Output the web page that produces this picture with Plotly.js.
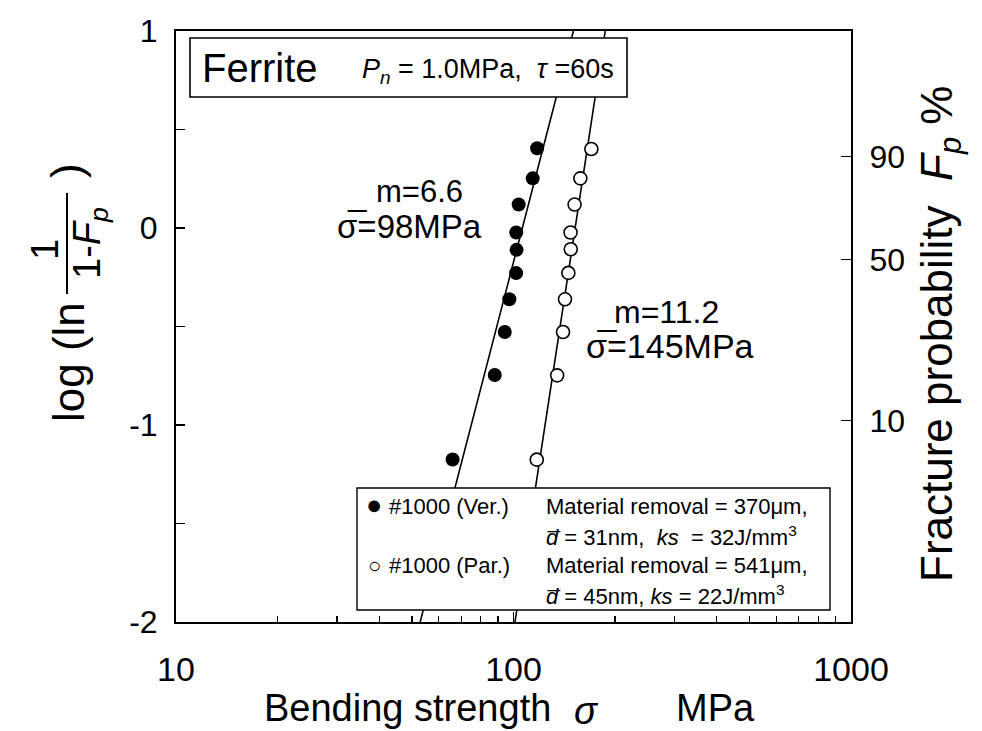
<!DOCTYPE html>
<html><head><meta charset="utf-8">
<script src="https://cdn.plot.ly/plotly-3.0.1.min.js"></script>
<style>body{margin:0;background:#fff}</style>
</head><body><div id="chart" style="width:982px;height:731px"></div>
<script>
// ---- data ----
const verSigma  = [66.0, 88.0, 94.2, 97.2, 101.8, 102.1, 101.9, 103.6, 114.0, 117.5];
const verLogLn  = [-1.175, -0.746, -0.528, -0.362, -0.229, -0.111, -0.023, 0.119, 0.252, 0.405];
const parSigma  = [117.2, 134.7, 140.2, 142.1, 145.4, 147.8, 147.6, 151.7, 157.8, 170.1];
const parLogLn  = [-1.176, -0.748, -0.528, -0.362, -0.228, -0.108, -0.023, 0.119, 0.252, 0.401];
const verFitSigma = [52.9, 150.5];
const verFitLogLn = [-2, 1];
const parFitSigma = [101.0, 187.0];
const parFitLogLn = [-2, 1];
const xTickVals = [10, 100, 1000];
const xTickText = ['10', '100', '1000'];
const xMinorVals = [20,30,40,50,60,70,80,90,200,300,400,500,600,700,800,900];
const yTickVals = [-2, -1.5, -1, -0.5, 0, 0.5, 1];
const yTickText = ['-2', '', '-1', '', '0', '', '1'];
const probTicksPct = [90, 50, 10];

const FONT = 'Liberation Sans, Arial, Helvetica, sans-serif';
const L = 176, R = 851, T = 31, B = 622, W = 982, H = 731;
const px = x => (x - L) / (R - L);
const py = y => (B - y) / (B - T);
const NB = '\u00a0';

const traces = [
  {x: verFitSigma, y: verFitLogLn, mode: 'lines', line: {color: '#000', width: 1.6}, showlegend: false, hoverinfo: 'skip'},
  {x: parFitSigma, y: parFitLogLn, mode: 'lines', line: {color: '#000', width: 1.6}, showlegend: false, hoverinfo: 'skip'},
  {x: verSigma, y: verLogLn, mode: 'markers', marker: {symbol: 'circle', size: 14, color: '#000', line: {width: 0}}, showlegend: false},
  {x: parSigma, y: parLogLn, mode: 'markers', marker: {symbol: 'circle', size: 13, color: '#fff', line: {color: '#000', width: 1.6}}, showlegend: false},
  {x: [null], y: [null], yaxis: 'y2', mode: 'markers', showlegend: false}
];

const ann = (x, y, text, size, opts) => Object.assign({
  xref: 'paper', yref: 'paper', x: px(x), y: py(y), text: text, showarrow: false,
  font: {family: FONT, size: size, color: '#000'}, xanchor: 'left', yanchor: 'middle'
}, opts || {});

const annotations = [
  ann(200, 68, 'Ferrite', 40),
  ann(360, 71, '<i>P</i><sub><i>n</i></sub>' + NB + '=' + NB + '1.0MPa,' + NB + NB + '<i>τ</i>' + NB + '=60s', 27),
  ann(374, 191, 'm=6.6', 31),
  ann(335, 226, 'σ\u0305=98MPa', 33),
  ann(612, 312, 'm=11.2', 32),
  ann(584, 346, 'σ\u0305=145MPa', 34),
  // legend contents
  ann(364, 505, '●', 27),
  ann(387, 506, '#1000 (Ver.)', 22),
  ann(544, 506, 'Material removal = 370μm,', 22),
  ann(544, 536, '<i>d\u0305</i>' + NB + '=' + NB + '31nm,' + NB + NB + '<i>ks</i>' + NB + NB + '=' + NB + '32J/mm<sup>3</sup>', 22),
  ann(366, 565, '○', 22),
  ann(387, 565, '#1000 (Par.)', 22),
  ann(544, 565, 'Material removal = 541μm,', 22),
  ann(544, 595, '<i>d\u0305</i>' + NB + '=' + NB + '45nm,' + NB + '<i>ks</i>' + NB + '=' + NB + '22J/mm<sup>3</sup>', 22),
  // x axis title
  ann(262, 708, 'Bending strength', 38),
  ann(586, 711, '<i>σ</i>', 38, {xanchor: 'center'}),
  ann(757, 708, 'MPa', 38, {xanchor: 'right'}),
  // right axis title
  ann(940, 334, 'Fracture probability' + NB + NB + '<i>F</i><sub><i>p</i></sub>' + NB + '%', 44, {xanchor: 'center', textangle: -90}),
  // left axis title: log (ln 1/(1-Fp))
  ann(68, 362, 'log (ln', 44, {xanchor: 'center', textangle: -90}),
  ann(45, 250, '1', 38, {xanchor: 'center', textangle: -90}),
  ann(90, 243, '1-<i>F</i><sub><i>p</i></sub>', 38, {xanchor: 'center', textangle: -90}),
  ann(66, 170, ')', 44, {xanchor: 'center', textangle: -90})
];

const shapes = [
  {type: 'rect', xref: 'paper', yref: 'paper', x0: px(190), x1: px(627), y0: py(97), y1: py(38),
   fillcolor: '#fff', line: {color: '#000', width: 1.6}, layer: 'above'},
  {type: 'rect', xref: 'paper', yref: 'paper', x0: px(357), x1: px(830), y0: py(610), y1: py(488),
   fillcolor: '#fff', line: {color: '#000', width: 1.4}, layer: 'above'},
  {type: 'line', xref: 'paper', yref: 'paper', x0: px(67), x1: px(67), y0: py(294), y1: py(193),
   line: {color: '#000', width: 2}}
];

const layout = {
  width: W, height: H,
  margin: {l: L, r: W - R, t: T, b: H - B, pad: 0},
  paper_bgcolor: '#fff', plot_bgcolor: '#fff',
  font: {family: FONT, color: '#000'},
  showlegend: false,
  xaxis: {
    type: 'log', range: [1, 3], tickmode: 'array', tickvals: xTickVals, ticktext: xTickText,
    ticks: 'inside', ticklen: 10, tickwidth: 1.5, tickcolor: '#000',
    minor: {tickmode: 'array', tickvals: xMinorVals, ticks: 'inside', ticklen: 6, tickwidth: 1.2, tickcolor: '#000', showgrid: false},
    showline: true, linewidth: 2, linecolor: '#000', mirror: true,
    showgrid: false, zeroline: false, ticklabelstandoff: 16,
    tickfont: {family: FONT, size: 34, color: '#000'}
  },
  yaxis: {
    range: [-2, 1], tickmode: 'array', tickvals: yTickVals, ticktext: yTickText,
    ticks: 'inside', ticklen: 9, tickwidth: 1.5, tickcolor: '#000',
    showline: true, linewidth: 2, linecolor: '#000', mirror: true,
    showgrid: false, zeroline: false, ticklabelstandoff: 10,
    tickfont: {family: FONT, size: 32, color: '#000'}
  },
  yaxis2: {
    overlaying: 'y', side: 'right', range: [-2, 1], tickmode: 'array',
    tickvals: probTicksPct.map(p => Math.log10(-Math.log(1 - p / 100))),
    ticktext: probTicksPct.map(String),
    ticks: 'inside', ticklen: 10, tickwidth: 1.5, tickcolor: '#000',
    showline: true, linewidth: 2, linecolor: '#000',
    showgrid: false, zeroline: false, ticklabelstandoff: 10,
    tickfont: {family: FONT, size: 32, color: '#000'}
  },
  annotations: annotations,
  shapes: shapes
};

Plotly.newPlot('chart', traces, layout, {staticPlot: true, displayModeBar: false});
</script></body></html>
